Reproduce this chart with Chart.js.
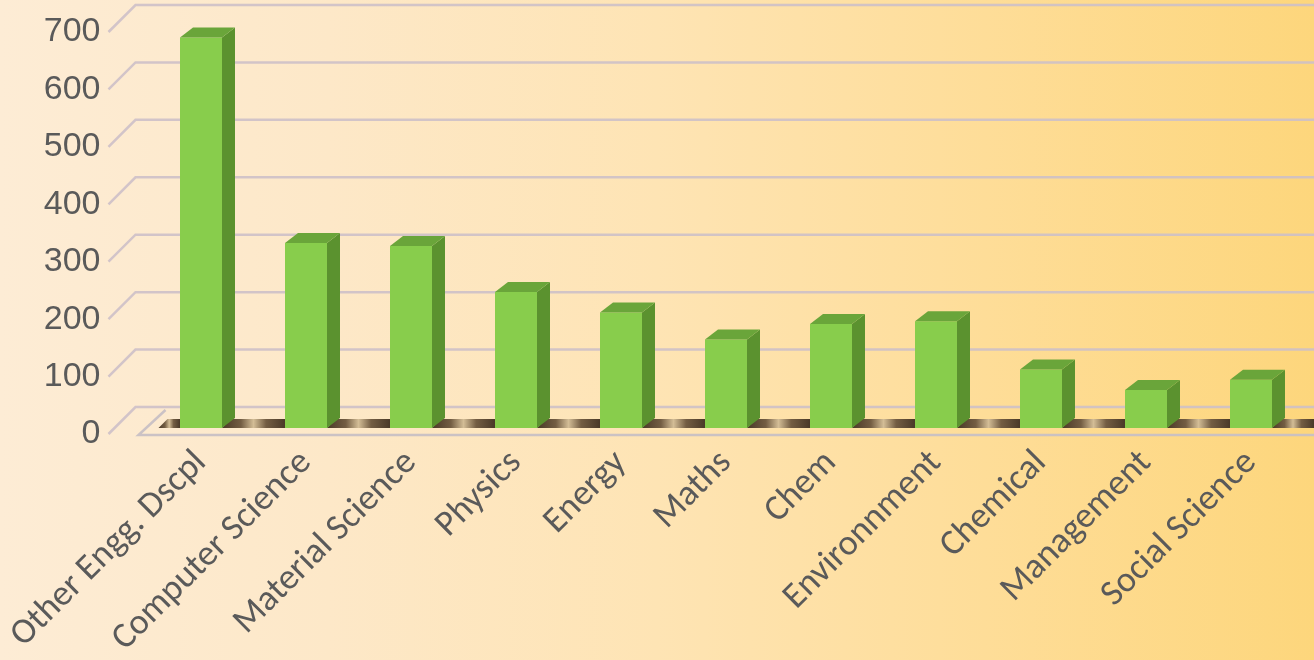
<!DOCTYPE html>
<html>
<head>
<meta charset="utf-8">
<script src="https://cdn.jsdelivr.net/npm/chart.js@4.4.1/dist/chart.umd.min.js"></script>
<style>
  html, body { margin: 0; padding: 0; }
  body {
    width: 1314px; height: 660px; overflow: hidden;
    background: linear-gradient(to right, #fdecd5 0%, #fde8c8 25%, #fee4b4 50%, #fedd98 75%, #fdd67c 100%);
  }
  #wrap { position: relative; width: 1314px; height: 660px; }
</style>
</head>
<body>
<div id="wrap"><canvas id="c" width="1314" height="660"></canvas></div>
<script>
const categories = ["Other Engg. Dscpl", "Computer Science", "Material Science", "Physics", "Energy", "Maths", "Chem", "Environnment", "Chemical", "Management", "Social Science"];
const values = [680, 322, 317, 237, 201, 154, 181, 186, 102, 66, 84];
const yTicks = [0, 100, 200, 300, 400, 500, 600, 700];

const DEPTH_X = 13, DEPTH_Y = 10;      // bar 3D depth
const BAR_SHIFT_Y = -6;                // bars sit slightly behind the front plane
const WALL_DX = 27, WALL_DY = 27;      // back wall offset

const threeD = {
  id: 'threeD',
  beforeDatasetsDraw(chart) {
    const ctx = chart.ctx;
    const ys = chart.scales.y;
    const area = chart.chartArea;
    const W = chart.width;
    ctx.save();
    ctx.strokeStyle = 'rgba(205,192,200,0.9)';
    ctx.lineWidth = 2.5;
    yTicks.forEach(v => {
      const y = ys.getPixelForValue(v);
      const x0 = area.left - 40;
      ctx.beginPath();
      ctx.moveTo(x0, y);
      ctx.lineTo(x0 + WALL_DX, y - WALL_DY);
      ctx.lineTo(W, y - WALL_DY);
      ctx.stroke();
    });
    const y0 = ys.getPixelForValue(0);
    ctx.strokeStyle = 'rgba(200,192,196,0.95)';
    ctx.lineWidth = 2.5;
    ctx.beginPath();
    ctx.moveTo(W, y0 + 1);
    ctx.lineTo(area.left - 10, y0 + 1);
    ctx.lineTo(area.left + 17, y0 - 24);
    ctx.stroke();
    const meta = chart.getDatasetMeta(0);
    const bars = meta.data;
    const sTop = y0 + BAR_SHIFT_Y - 9, sBot = y0 + BAR_SHIFT_Y;
    const segs = [];
    segs.push([area.left + 10, bars[0].x - bars[0].width / 2]);
    for (let i = 0; i < bars.length; i++) {
      const a = bars[i].x + bars[i].width / 2;
      const b = (i + 1 < bars.length) ? bars[i + 1].x - bars[i + 1].width / 2 : W;
      segs.push([a, b]);
    }
    segs.forEach(([a, b]) => {
      const g = ctx.createLinearGradient(a, 0, b, 0);
      g.addColorStop(0, '#4a3928');
      g.addColorStop(0.3, '#735d43');
      g.addColorStop(0.5, '#d3bd96');
      g.addColorStop(0.7, '#735d43');
      g.addColorStop(1, '#4a3928');
      ctx.fillStyle = g;
      ctx.beginPath();
      ctx.moveTo(a, sBot);
      ctx.lineTo(b, sBot);
      ctx.lineTo(b + 9, sTop);
      ctx.lineTo(a + 9, sTop);
      ctx.closePath();
      ctx.fill();
    });
    ctx.restore();
    ctx.save();
    ctx.translate(0, BAR_SHIFT_Y);
  },
  afterDatasetsDraw(chart) {
    const ctx = chart.ctx;
    const meta = chart.getDatasetMeta(0);
    meta.data.forEach(bar => {
      const l = bar.x - bar.width / 2, r = bar.x + bar.width / 2;
      const t = bar.y, b = bar.base;
      ctx.fillStyle = '#5b922f';
      ctx.beginPath();
      ctx.moveTo(r, t);
      ctx.lineTo(r + DEPTH_X, t - DEPTH_Y);
      ctx.lineTo(r + DEPTH_X, b - DEPTH_Y);
      ctx.lineTo(r, b);
      ctx.closePath();
      ctx.fill();
      ctx.fillStyle = '#6aa53a';
      ctx.beginPath();
      ctx.moveTo(l, t);
      ctx.lineTo(l + DEPTH_X, t - DEPTH_Y);
      ctx.lineTo(r + DEPTH_X, t - DEPTH_Y);
      ctx.lineTo(r, t);
      ctx.closePath();
      ctx.fill();
    });
    ctx.restore();
  }
};

new Chart(document.getElementById('c'), {
  type: 'bar',
  data: {
    labels: categories,
    datasets: [{
      data: values,
      backgroundColor: '#88cd4c',
      borderWidth: 0,
      barPercentage: 0.4,
      categoryPercentage: 1.0,
      clip: false
    }]
  },
  options: {
    responsive: false,
    animation: false,
    devicePixelRatio: 1,
    layout: { padding: { top: 32, right: 10.5, left: 0, bottom: 0 } },
    plugins: { legend: { display: false }, tooltip: { enabled: false }, title: { display: false } },
    scales: {
      x: {
        grid: { display: false, drawTicks: false },
        border: { display: false },
        ticks: {
          autoSkip: false,
          minRotation: 45, maxRotation: 45,
          padding: 8,
          color: '#5a5a5a',
          font: { family: 'Carlito, Lato, sans-serif', size: 36 }
        },
        afterFit(scale) { scale.height = 226; scale.paddingLeft = 0; scale.paddingRight = 0; }
      },
      y: {
        min: 0, max: 700,
        afterBuildTicks(scale) { scale.ticks = yTicks.map(v => ({ value: v })); },
        grid: { display: false, drawTicks: false },
        border: { display: false },
        ticks: {
          padding: 48,
          color: '#5a5a5a',
          font: { family: '"Liberation Sans", Arial, sans-serif', size: 34 }
        },
        afterFit(scale) { scale.width = 148.5; scale.paddingTop = 0; scale.paddingBottom = 0; }
      }
    }
  },
  plugins: [threeD]
});
</script>
</body>
</html>
